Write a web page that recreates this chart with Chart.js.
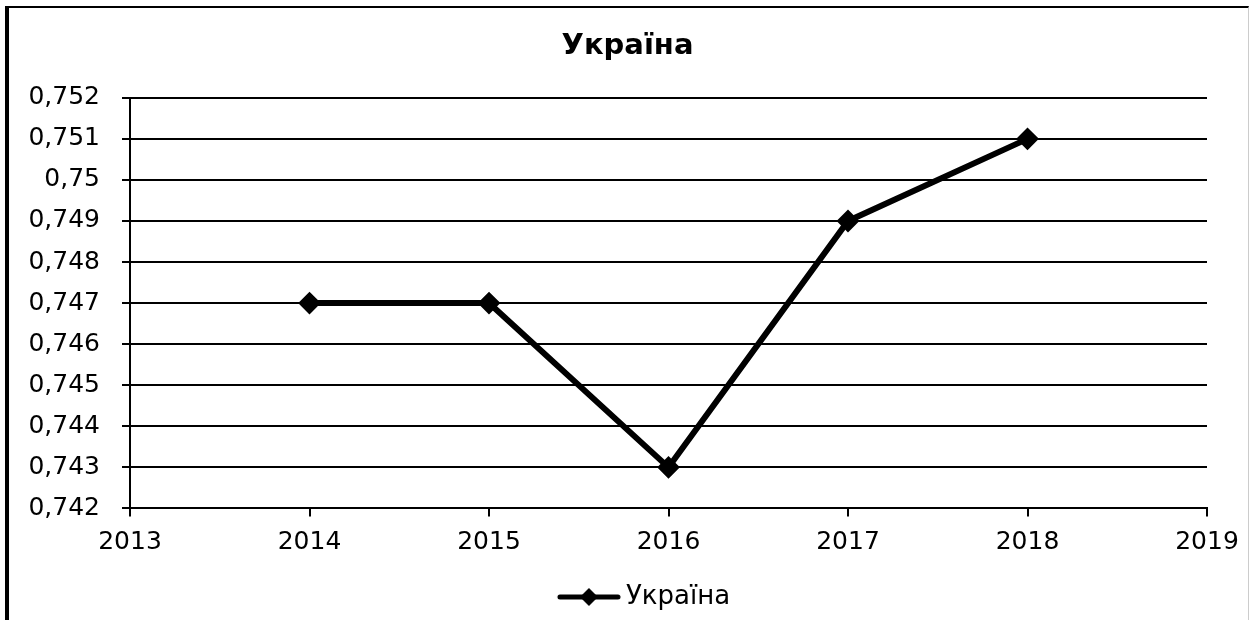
<!DOCTYPE html>
<html>
<head>
<meta charset="utf-8">
<script src="https://cdn.jsdelivr.net/npm/chart.js@4/dist/chart.umd.min.js"></script>
<style>
  html, body { margin: 0; padding: 0; background: #fff; }
  #frame {
    position: absolute; left: 5px; top: 6px; width: 1244px; height: 620px;
    border-left: 4px solid #000; border-top: 2px solid #000; border-right: 1px solid #ccc;
    box-sizing: border-box;
  }
  #wrap { position: absolute; left: 0; top: 0; width: 1255px; height: 620px; }
</style>
</head>
<body>
<div id="frame"></div>
<div id="wrap"><canvas id="chart" width="1255" height="620"></canvas></div>
<script>
// --- Data ---
const years = [2014, 2015, 2016, 2017, 2018];
const ukraineValues = [0.747, 0.747, 0.743, 0.749, 0.751];
const seriesName = 'Україна';
const yTicks = [0.742, 0.743, 0.744, 0.745, 0.746, 0.747, 0.748, 0.749, 0.75, 0.751, 0.752];
const xTicks = [2013, 2014, 2015, 2016, 2017, 2018, 2019];

const FONT = "'DejaVu Sans', sans-serif";

// --- Legend marker: line with a diamond (blank space on the left shifts it right) ---
function makeLegendMarker() {
    const c = document.createElement('canvas');
    c.width = 104; c.height = 24;
    const g = c.getContext('2d');
    g.strokeStyle = '#000';
    g.lineWidth = 5;
    g.lineCap = 'round';
    g.beginPath(); g.moveTo(43, 12); g.lineTo(101, 12); g.stroke();
    g.fillStyle = '#000';
    g.beginPath(); g.moveTo(72, 3); g.lineTo(81, 12); g.lineTo(72, 21); g.lineTo(63, 12); g.closePath(); g.fill();
    return c;
}
const legendMarker = makeLegendMarker();

const points = years.map((y, i) => ({ x: y, y: ukraineValues[i] }));

new Chart(document.getElementById('chart').getContext('2d'), {
    type: 'line',
    data: {
        datasets: [{
            label: seriesName,
            data: points,
            borderColor: '#000',
            backgroundColor: '#000',
            borderWidth: 6,
            pointStyle: 'rectRot',
            pointRadius: 10,
            pointBorderWidth: 2,
            pointBackgroundColor: '#000',
            pointBorderColor: '#000',
            tension: 0,
            fill: false
        }]
    },
    options: {
        responsive: false,
        animation: false,
        layout: { padding: 0 },
        scales: {
            x: {
                type: 'linear',
                min: xTicks[0],
                max: xTicks[xTicks.length - 1],
                afterBuildTicks: scale => { scale.ticks = xTicks.map(v => ({ value: v })); },
                ticks: {
                    color: '#000',
                    font: { family: FONT, size: 25 },
                    padding: 11,
                    maxRotation: 0,
                    callback: v => String(v)
                },
                grid: { drawOnChartArea: false, drawTicks: true, tickLength: 8, color: '#000', lineWidth: 2 },
                border: { display: true, color: '#000', width: 2 },
                afterFit: scale => { scale.height = 66.6; }
            },
            y: {
                min: yTicks[0],
                max: yTicks[yTicks.length - 1],
                afterBuildTicks: scale => { scale.ticks = yTicks.map(v => ({ value: v })); },
                ticks: {
                    color: '#000',
                    font: { family: FONT, size: 25 },
                    padding: 22,
                    callback: v => String(Number(v.toFixed(3))).replace('.', ',')
                },
                grid: { color: '#000', lineWidth: 2, tickLength: 8 },
                border: { display: true, color: '#000', width: 2 },
                afterFit: scale => { scale.width = 130; }
            },
            // empty right-hand space so title and legend centre on the full width
            yRight: {
                position: 'right',
                min: yTicks[0],
                max: yTicks[yTicks.length - 1],
                ticks: { display: false },
                grid: { display: false },
                border: { display: false },
                afterFit: scale => { scale.width = 48; }
            }
        },
        plugins: {
            title: {
                display: true,
                text: seriesName,
                color: '#000',
                font: { family: FONT, size: 29, weight: 'bold', lineHeight: 1.2 },
                padding: { top: 29, bottom: 34 }
            },
            legend: {
                display: true,
                position: 'bottom',
                labels: {
                    color: '#000',
                    font: { family: FONT, size: 26, lineHeight: 1.0 },
                    usePointStyle: true,
                    pointStyleWidth: 88,
                    boxHeight: 24,
                    padding: 9,
                    generateLabels: chart => [{
                        text: seriesName,
                        pointStyle: legendMarker,
                        fillStyle: '#000',
                        strokeStyle: '#000',
                        lineWidth: 0,
                        hidden: false,
                        datasetIndex: 0
                    }]
                }
            },
            tooltip: { enabled: false }
        }
    }
});
</script>
</body>
</html>
